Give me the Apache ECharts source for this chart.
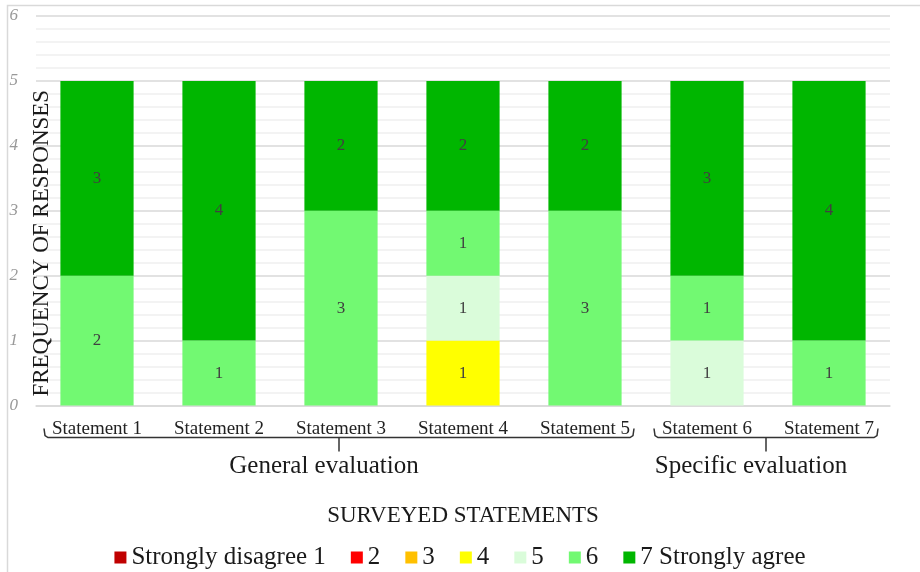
<!DOCTYPE html>
<html><head><meta charset="utf-8">
<script src="https://cdn.jsdelivr.net/npm/echarts@6/dist/echarts.min.js"></script>
<style>html,body{margin:0;padding:0;background:#fff}#c{width:920px;height:572px}</style>
</head><body><div id="c"></div>
<script>
const categories = ['Statement 1','Statement 2','Statement 3','Statement 4','Statement 5','Statement 6','Statement 7'];
const seriesNames = ['Strongly disagree 1','2','3','4','5','6','7 Strongly agree'];
const s1 = [0,0,0,0,0,0,0];
const s2 = [0,0,0,0,0,0,0];
const s3 = [0,0,0,0,0,0,0];
const s4 = [0,0,0,1,0,0,0];
const s5 = [0,0,0,1,0,1,0];
const s6 = [2,1,3,1,3,1,1];
const s7 = [3,4,2,2,2,3,4];
const yTicks = [0,1,2,3,4,5,6];
const groups = [
  {label:'General evaluation', from:0, to:4},
  {label:'Specific evaluation', from:5, to:6}
];
const colors = ['#C00000','#FF0000','#FFC000','#FFFF00','#DAFCDA','#72F972','#00B600'];
const allSeries = [s1,s2,s3,s4,s5,s6,s7];
const FONT = '"Liberation Serif", "DejaVu Serif", serif';

const chart = echarts.init(document.getElementById('c'));
const option = {
  animation:false,
  color: colors,
  textStyle:{fontFamily:FONT},
  grid:{left:36,right:30,top:16,bottom:166.5,containLabel:false},
  legend:{
    bottom:-3, left:'center', icon:'rect', itemWidth:12, itemHeight:12, itemGap:25,
    textStyle:{fontFamily:FONT,fontSize:25,color:'#1a1a1a'},
    data: seriesNames
  },
  xAxis:{
    type:'category', data:categories,
    axisTick:{show:false},
    axisLine:{lineStyle:{color:'#d9d9d9',width:1.5}},
    axisLabel:{fontFamily:FONT,fontSize:19,color:'#222',margin:14},
    name:'SURVEYED STATEMENTS', nameLocation:'middle', nameGap:99,
    nameTextStyle:{fontFamily:FONT,fontSize:23,color:'#1a1a1a'}
  },
  yAxis:{
    type:'value', min:0, max:6, interval:1,
    axisLabel:{fontFamily:FONT,fontSize:17,color:'#999',fontStyle:'italic',margin:18,
      formatter:function(v){return yTicks.indexOf(v)>=0?String(v):'';}},
    axisLine:{show:false}, axisTick:{show:false},
    splitLine:{lineStyle:{color:'#d9d9d9',width:1.5}},
    minorTick:{show:false, splitNumber:5},
    minorSplitLine:{show:true, lineStyle:{color:'#efefef',width:1.5}}
  },
  series: allSeries.map(function(d,i){
    return {
      name: seriesNames[i], type:'bar', stack:'total', data:d,
      barWidth:'60%',
      itemStyle:{color:colors[i]},
      label:{show:true, position:'inside', fontFamily:FONT, fontSize:17, color:'#404040',
        formatter:function(p){return p.value>0?String(p.value):'';}}
    };
  })
};
chart.setOption(option);

function buildGraphics(){
  const g = [];
  const c0 = chart.convertToPixel({xAxisIndex:0}, categories[0]);
  const c1 = chart.convertToPixel({xAxisIndex:0}, categories[1]);
  const band = c1 - c0;
  const y0 = chart.convertToPixel({yAxisIndex:0}, 0);
  const by = y0 + 32;
  groups.forEach(function(gr){
    const x0 = chart.convertToPixel({xAxisIndex:0}, categories[gr.from]) - band/2 + 8;
    const x1 = chart.convertToPixel({xAxisIndex:0}, categories[gr.to]) + band/2 - 12;
    const xm = (x0 + x1)/2;
    g.push({type:'polyline', silent:true,
      shape:{points:[[x0,by-9],[x0+1,by-2],[x0+4,by],[x1-4,by],[x1-1,by-2],[x1,by-9]]},
      style:{stroke:'#333',lineWidth:1.5,fill:null}});
    g.push({type:'line', silent:true,
      shape:{x1:xm,y1:by,x2:xm,y2:by+14}, style:{stroke:'#333',lineWidth:1.5}});
    g.push({type:'text', silent:true, x:xm-15, y:by+29,
      style:{text:gr.label, font:'25px '+FONT, fill:'#1a1a1a', textAlign:'center', textVerticalAlign:'middle'}});
  });
  const yMid = (y0 + chart.convertToPixel({yAxisIndex:0}, 5))/2;
  g.push({type:'text', silent:true, x:42, y:yMid, rotation:Math.PI/2,
    style:{text:'FREQUENCY OF RESPONSES', font:'23px '+FONT, fill:'#1a1a1a', textAlign:'center', textVerticalAlign:'middle'}});
  g.push({type:'polyline', silent:true, z:-1,
    shape:{points:[[7.5,572],[7.5,5.5],[920,5.5]]}, style:{stroke:'#d9d9d9',lineWidth:1.5,fill:null}});
  chart.setOption({graphic:g});
}
buildGraphics();
</script></body></html>
